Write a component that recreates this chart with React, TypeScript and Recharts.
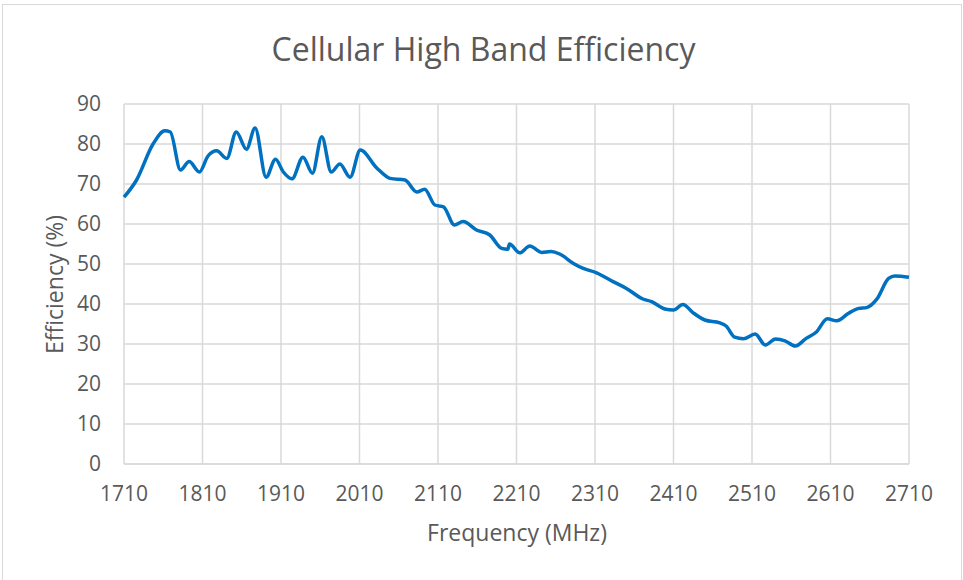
import { CartesianGrid, Line, LineChart, XAxis, YAxis } from 'recharts'

const frequencies = [
  1710, 1726, 1747, 1762, 1769, 1782, 1793, 1806, 1817, 1828, 1841, 1853, 1866,
  1877, 1891, 1903, 1913, 1924, 1938, 1950, 1962, 1974, 1985, 1998, 2011, 2032,
  2049, 2068, 2083, 2093, 2106, 2117, 2131, 2142, 2159, 2176, 2191, 2199, 2201,
  2214, 2227, 2242, 2254, 2265, 2282, 2295, 2312, 2333, 2350, 2371, 2382, 2399,
  2410, 2422, 2435, 2450, 2469, 2477, 2488, 2499, 2514, 2527, 2540, 2552, 2565,
  2579, 2592, 2606, 2618, 2633, 2646, 2656, 2669, 2684, 2692, 2710,
]

const efficiency = [
  66.7, 71, 80, 83.3, 83, 73.5, 75.6, 73, 77, 78.3, 76.4, 83, 78.7,
  84, 71.7, 76.2, 73, 71.3, 76.7, 72.7, 81.8, 73, 75, 71.7, 78.5, 74,
  71.4, 71, 68, 68.7, 64.75, 64.3, 59.75, 60.6, 58.5, 57.25, 53.9, 53.7, 55,
  52.8, 54.5, 52.9, 53.1, 52.5, 50.2, 48.9, 47.8, 45.6, 43.9, 41.25, 40.6, 38.75,
  38.5, 39.9, 37.8, 36, 35.3, 34.5, 31.7, 31.3, 32.5, 29.75, 31.25, 30.8, 29.5,
  31.4, 33, 36.3, 35.8, 37.7, 38.9, 39.1, 41.2, 46.4, 47, 46.7,
]

const xTicks = [1710, 1810, 1910, 2010, 2110, 2210, 2310, 2410, 2510, 2610, 2710]
const yTicks = [0, 10, 20, 30, 40, 50, 60, 70, 80, 90]

const chartData = frequencies.map((frequency, index) => ({
  frequency,
  efficiency: efficiency[index],
}))

const palette = {
  line: '#0070c0',
  grid: '#d9d9d9',
  text: '#595959',
}

const font = '"Open Sans", sans-serif'

export default function App() {
  return (
    <div
      style={{
        position: 'absolute',
        left: 0,
        top: 0,
        width: 963,
        height: 580,
        overflow: 'hidden',
        background: '#fff',
        fontFamily: font,
        color: palette.text,
      }}
    >
      <div
        style={{
          position: 'absolute',
          left: 2,
          top: 4,
          width: 958,
          height: 620,
          border: `1px solid ${palette.grid}`,
        }}
      />
      <div
        style={{
          position: 'absolute',
          left: 0,
          top: 33,
          width: 967,
          textAlign: 'center',
          fontSize: 32,
          lineHeight: '32px',
        }}
      >
        Cellular High Band Efficiency
      </div>

      <LineChart
        width={963}
        height={580}
        data={chartData}
        margin={{ top: 104, right: 54, bottom: 86, left: 64 }}
        style={{ position: 'absolute', left: 0, top: 0 }}
      >
        <CartesianGrid stroke={palette.grid} strokeWidth={1.5} />
        <XAxis
          dataKey="frequency"
          type="number"
          domain={[1710, 2710]}
          ticks={xTicks}
          height={30}
          axisLine={{ stroke: palette.grid, strokeWidth: 1.5 }}
          tickLine={false}
          tickSize={0}
          tickMargin={22}
          tick={{ fill: palette.text, fontSize: 21, fontFamily: font }}
          interval={0}
        />
        <YAxis
          type="number"
          domain={[0, 90]}
          ticks={yTicks}
          width={60}
          axisLine={false}
          tickLine={false}
          tickSize={0}
          tickMargin={23}
          tick={{ fill: palette.text, fontSize: 21, fontFamily: font }}
          interval={0}
        />
        <Line
          dataKey="efficiency"
          type="monotone"
          stroke={palette.line}
          strokeWidth={3.5}
          dot={false}
          isAnimationActive={false}
        />
      </LineChart>

      <div
        style={{
          position: 'absolute',
          left: 367,
          top: 521,
          width: 300,
          textAlign: 'center',
          fontSize: 23,
          lineHeight: '23px',
        }}
      >
        Frequency (MHz)
      </div>
      <div
        style={{
          position: 'absolute',
          left: 54 - 150,
          top: 284 - 11.5,
          width: 300,
          textAlign: 'center',
          fontSize: 23,
          lineHeight: '23px',
          transform: 'rotate(-90deg)',
        }}
      >
        Efficiency (%)
      </div>
    </div>
  )
}
